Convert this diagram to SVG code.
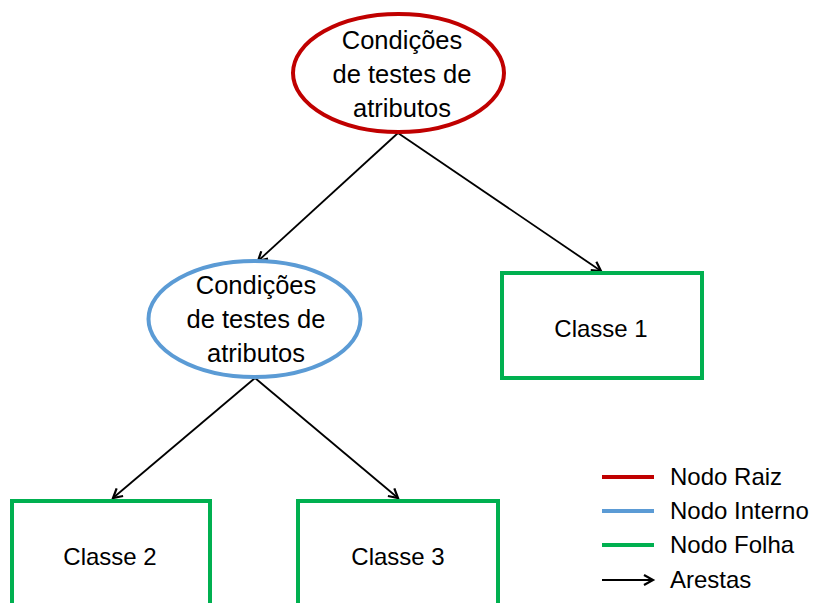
<svg xmlns="http://www.w3.org/2000/svg" width="816" height="603" viewBox="0 0 816 603">
<style>
text{font-family:"Liberation Sans",Arial,sans-serif;fill:#000;text-anchor:middle}
.n{font-size:25.5px}
.c{font-size:24px}
.l{font-size:24px;text-anchor:start}
.root{fill:#fff;stroke:#C00000;stroke-width:4}
.int{fill:#fff;stroke:#5B9BD5;stroke-width:4}
.leaf{fill:#fff;stroke:#00B050;stroke-width:4}
.e{stroke:#000;stroke-width:1.8;fill:none;marker-end:url(#ah)}
</style>
<defs>
<marker id="ah" markerUnits="userSpaceOnUse" markerWidth="14" markerHeight="14" refX="11" refY="7" orient="auto">
<path d="M2,2 L11,7 L2,12" fill="none" stroke="#000" stroke-width="2.2"/>
</marker>
</defs>
<rect width="816" height="603" fill="#fff"/>
<g id="edges">
<line class="e" x1="398" y1="133" x2="258" y2="261"/>
<line class="e" x1="398" y1="133" x2="601" y2="271"/>
<line class="e" x1="255" y1="378" x2="113" y2="498"/>
<line class="e" x1="255" y1="378" x2="398" y2="498"/>
</g>
<g id="root">
<ellipse class="root" cx="398.5" cy="73" rx="105.5" ry="59"/>
<text class="n" x="402" y="49">Condições</text>
<text class="n" x="402" y="83">de testes de</text>
<text class="n" x="402" y="117">atributos</text>
</g>
<g id="internal">
<ellipse class="int" cx="254.5" cy="319" rx="106" ry="58"/>
<text class="n" x="256" y="294">Condições</text>
<text class="n" x="256" y="328">de testes de</text>
<text class="n" x="256" y="362">atributos</text>
</g>
<g id="classe1">
<rect class="leaf" x="502" y="273" width="200" height="105"/>
<text class="c" x="601" y="337">Classe 1</text>
</g>
<g id="classe2">
<rect class="leaf" x="12" y="501" width="198" height="110"/>
<text class="c" x="110" y="565">Classe 2</text>
</g>
<g id="classe3">
<rect class="leaf" x="298" y="501" width="200" height="110"/>
<text class="c" x="398" y="565">Classe 3</text>
</g>
<g id="legend">
<line x1="602" y1="477" x2="654" y2="477" stroke="#C00000" stroke-width="4"/>
<line x1="602" y1="511" x2="654" y2="511" stroke="#5B9BD5" stroke-width="4"/>
<line x1="602" y1="545" x2="654" y2="545" stroke="#00B050" stroke-width="4"/>
<line class="e" x1="602" y1="580" x2="653" y2="580"/>
<text class="l" x="670" y="485">Nodo Raiz</text>
<text class="l" x="670" y="519">Nodo Interno</text>
<text class="l" x="670" y="553">Nodo Folha</text>
<text class="l" x="670" y="588">Arestas</text>
</g>
</svg>
